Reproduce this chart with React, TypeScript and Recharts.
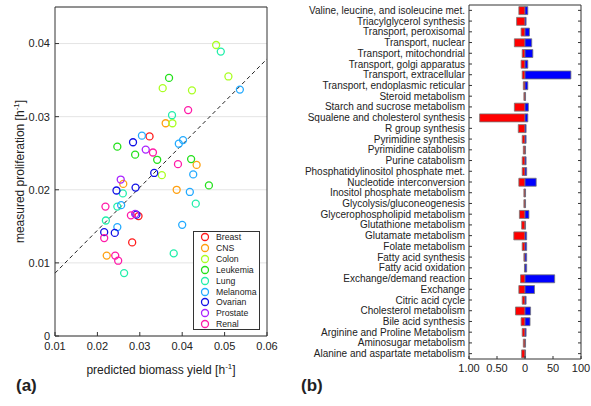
import React from "react";
import {
  ScatterChart,
  Scatter,
  XAxis,
  YAxis,
  CartesianGrid,
  ReferenceLine,
  Legend,
  BarChart,
  Bar
} from "recharts";

const FONT = "'Liberation Sans', Arial, sans-serif";
const INK = "#222";
const AXIS = "#333";

// panel (a): cell lines, grouped by tissue, [predicted yield, measured proliferation]
const cellTypes = ["Breast", "CNS", "Colon", "Leukemia", "Lung", "Melanoma", "Ovarian", "Prostate", "Renal"];
const cellColors = ["#ff1a1a", "#ffa010", "#aaff22", "#22e01a", "#22eeaa", "#22aaff", "#1010e6", "#aa22ff", "#ff1aa8"];

const breast = [[0.0323, 0.0273], [0.0297, 0.0164], [0.0282, 0.0128]];
const cns = [[0.0361, 0.0291], [0.0434, 0.0234], [0.0261, 0.0208], [0.0387, 0.02], [0.0222, 0.011]];
const colon = [[0.048, 0.0398], [0.0509, 0.0355], [0.0354, 0.0339], [0.0423, 0.0336], [0.0377, 0.0291], [0.0352, 0.022]];
const leukemia = [[0.0369, 0.0353], [0.0247, 0.0259], [0.0289, 0.0248], [0.0341, 0.0241], [0.0421, 0.0242], [0.0463, 0.0206]];
const lung = [[0.0491, 0.0389], [0.0376, 0.0302], [0.026, 0.0195], [0.0247, 0.0177], [0.0432, 0.0181], [0.022, 0.0158], [0.038, 0.0113], [0.0263, 0.0086]];
const melanoma = [[0.0536, 0.0337], [0.0305, 0.0274], [0.0402, 0.0268], [0.0392, 0.0263], [0.0426, 0.0221], [0.0418, 0.0197], [0.0256, 0.0179], [0.04, 0.0152], [0.0247, 0.0149]];
const ovarian = [[0.0284, 0.0265], [0.0334, 0.0223], [0.0245, 0.0199], [0.029, 0.0203], [0.0292, 0.0166], [0.0216, 0.0142], [0.0241, 0.0141]];
const prostate = [[0.0255, 0.0214], [0.0314, 0.0255], [0.0289, 0.0167]];
const renal = [[0.0414, 0.0309], [0.0331, 0.0251], [0.039, 0.0235], [0.0219, 0.0177], [0.0279, 0.0165], [0.0216, 0.0134], [0.0242, 0.011], [0.0249, 0.0103]];
const groups = [breast, cns, colon, leukemia, lung, melanoma, ovarian, prostate, renal];

const fitX = [0.01, 0.06];
const fitY = [0.0086, 0.0379];

const yieldTicks = [0.01, 0.02, 0.03, 0.04, 0.05, 0.06];
const prolifTicks = [0, 0.01, 0.02, 0.03, 0.04];

// panel (b): subsystems, top to bottom
const subsystems = [
  "Valine, leucine, and isoleucine met.",
  "Triacylglycerol synthesis",
  "Transport, peroxisomal",
  "Transport, nuclear",
  "Transport, mitochondrial",
  "Transport, golgi apparatus",
  "Transport, extracellular",
  "Transport, endoplasmic reticular",
  "Steroid metabolism",
  "Starch and sucrose metabolism",
  "Squalene and cholesterol synthesis",
  "R group synthesis",
  "Pyrimidine synthesis",
  "Pyrimidine catabolism",
  "Purine catabolism",
  "Phosphatidylinositol phosphate met.",
  "Nucleotide interconversion",
  "Inositol phosphate metabolism",
  "Glycolysis/gluconeogenesis",
  "Glycerophospholipid metabolism",
  "Glutathione metabolism",
  "Glutamate metabolism",
  "Folate metabolism",
  "Fatty acid synthesis",
  "Fatty acid oxidation",
  "Exchange/demand reaction",
  "Exchange",
  "Citric acid cycle",
  "Cholesterol metabolism",
  "Bile acid synthesis",
  "Arginine and Proline Metabolism",
  "Aminosugar metabolism",
  "Alanine and aspartate metabolism"
];
const lossFraction = [0.11, 0.15, 0.07, 0.19, 0.05, 0.07, 0.05, 0.03, 0.02, 0.19, 0.81, 0.12, 0.05, 0.03, 0.05, 0.05, 0.11, 0.02, 0.02, 0.1, 0.06, 0.2, 0.05, 0.02, 0.01, 0.08, 0.11, 0.05, 0.17, 0.07, 0.05, 0.03, 0.06];
const gainCount = [5, 2, 8, 12, 14, 5, 82, 5, 1, 6, 5, 2, 2, 1, 2, 3, 20, 1, 1, 7, 1, 3, 3, 3, 3, 53, 17, 2, 10, 9, 2, 1, 1];
const barTicks = [-100, -50, 0, 50, 100];

const barData = subsystems.map((name, i) => ({
  name,
  loss: -lossFraction[i] * 100,
  gain: gainCount[i]
}));

const fmtBar = (v: number) => (v < 0 ? (-v / 100).toFixed(2) : String(v));
const blank = () => "";

const XTitle = ({ viewBox }: any) => (
  <text x={viewBox.x + viewBox.width / 2} y={viewBox.y + 38} textAnchor="middle" fontSize={12} fill={INK}>
    predicted biomass yield [h
    <tspan dy={-5} fontSize={8}>-1</tspan>
    <tspan dy={5}>]</tspan>
  </text>
);

const YTitle = ({ viewBox }: any) => {
  const cx = viewBox.x + 14;
  const cy = viewBox.y + viewBox.height / 2;
  return (
    <text x={cx} y={cy} transform={`rotate(-90 ${cx} ${cy})`} textAnchor="middle" fontSize={12} fill={INK}>
      measured proliferation [h
      <tspan dy={-5} fontSize={8}>-1</tspan>
      <tspan dy={5}>]</tspan>
    </text>
  );
};

const SubsystemTick = ({ x, y, payload }: any) => (
  <text x={x} y={y} dy={3.5} textAnchor="end" fontSize={10} fill={INK}>
    {payload.value}
  </text>
);

const LegendBox = () => (
  <div
    style={{
      width: 67,
      height: 99,
      boxSizing: "border-box",
      border: `1px solid ${AXIS}`,
      background: "#fff",
      paddingLeft: 6,
      fontSize: 8.7,
      color: INK
    }}
  >
    {cellTypes.map((t, i) => (
      <div key={t} style={{ display: "flex", alignItems: "center", height: 10.85 }}>
        <svg width={10} height={10}>
          <circle cx={5} cy={5} r={3.5} fill="none" stroke={cellColors[i]} strokeWidth={1.3} />
        </svg>
        <span style={{ marginLeft: 6 }}>{t}</span>
      </div>
    ))}
  </div>
);

function YieldScatter() {
  return (
    <ScatterChart width={285} height={406} margin={{ top: 6, right: 17, bottom: 30, left: 10 }}>
      <CartesianGrid vertical={false} stroke="#e4e4e4" />
      <XAxis
        type="number"
        dataKey="x"
        domain={[0.01, 0.06]}
        ticks={yieldTicks}
        tickFormatter={(v: number) => v.toFixed(2)}
        tickSize={-4}
        tickMargin={10}
        height={40}
        stroke={AXIS}
        tick={{ fontSize: 11, fill: INK }}
        allowDataOverflow
        label={XTitle}
      />
      <XAxis
        xAxisId="top"
        orientation="top"
        type="number"
        domain={[0.01, 0.06]}
        ticks={yieldTicks}
        tickFormatter={blank}
        tickSize={-4}
        height={1}
        stroke={AXIS}
      />
      <YAxis
        type="number"
        dataKey="y"
        domain={[0, 0.045]}
        ticks={prolifTicks}
        tickFormatter={(v: number) => (v === 0 ? "0" : v.toFixed(2))}
        tickSize={-4}
        tickMargin={9}
        width={45}
        stroke={AXIS}
        tick={{ fontSize: 11, fill: INK }}
        allowDataOverflow
        label={YTitle}
      />
      <YAxis
        yAxisId="right"
        orientation="right"
        type="number"
        domain={[0, 0.045]}
        ticks={prolifTicks}
        tickFormatter={blank}
        tickSize={-4}
        width={1}
        stroke={AXIS}
      />
      <ReferenceLine
        segment={[
          { x: fitX[0], y: fitY[0] },
          { x: fitX[1], y: fitY[1] }
        ]}
        stroke={INK}
        strokeDasharray="4 3"
      />
      {groups.map((pts, i) => (
        <Scatter
          key={cellTypes[i]}
          name={cellTypes[i]}
          data={pts.map(([x, y]) => ({ x, y }))}
          fill={cellColors[i]}
          isAnimationActive={false}
          shape={(p: any) => (
            <circle cx={p.cx} cy={p.cy} r={3.5} fill="none" stroke={cellColors[i]} strokeWidth={1.3} />
          )}
        />
      ))}
      <Legend
        layout="vertical"
        align="center"
        verticalAlign="middle"
        wrapperStyle={{ left: 193, top: 231, width: 67, height: 99 }}
        content={LegendBox}
      />
    </ScatterChart>
  );
}

function SubsystemBars() {
  return (
    <BarChart
      layout="vertical"
      width={301}
      height={406}
      data={barData}
      stackOffset="sign"
      barCategoryGap="15%"
      margin={{ top: 4, right: 9, bottom: 27, left: 5 }}
    >
      <XAxis
        type="number"
        domain={[-100, 100]}
        ticks={barTicks}
        tickFormatter={fmtBar}
        tickSize={-3}
        tickMargin={8}
        height={20}
        stroke={AXIS}
        tick={{ fontSize: 11, fill: INK }}
        allowDataOverflow
      />
      <XAxis
        xAxisId="top"
        orientation="top"
        type="number"
        domain={[-100, 100]}
        ticks={barTicks}
        tickFormatter={blank}
        tickSize={-3}
        height={1}
        stroke={AXIS}
      />
      <YAxis
        type="category"
        dataKey="name"
        width={174}
        interval={0}
        tickSize={-3}
        tickMargin={7}
        stroke={AXIS}
        tick={SubsystemTick}
      />
      <YAxis
        yAxisId="right"
        orientation="right"
        type="category"
        dataKey="name"
        width={1}
        interval={0}
        tickSize={-3}
        tickFormatter={blank}
        stroke={AXIS}
      />
      <Bar dataKey="loss" stackId="s" fill="#ff0000" stroke="#777" strokeWidth={0.8} isAnimationActive={false} />
      <Bar dataKey="gain" stackId="s" fill="#0000ff" stroke="#777" strokeWidth={0.8} isAnimationActive={false} />
    </BarChart>
  );
}

export default function App() {
  return (
    <div
      style={{
        position: "fixed",
        left: 0,
        top: 0,
        width: 591,
        height: 406,
        background: "#fff",
        fontFamily: FONT,
        color: INK
      }}
    >
      <div style={{ position: "absolute", left: 0, top: 0 }}>
        <YieldScatter />
      </div>
      <div style={{ position: "absolute", left: 290, top: 0 }}>
        <SubsystemBars />
      </div>
      <div style={{ position: "absolute", left: 16, top: 376, fontSize: 17, fontWeight: "bold", lineHeight: "20px" }}>
        (a)
      </div>
      <div style={{ position: "absolute", left: 301, top: 376, fontSize: 17, fontWeight: "bold", lineHeight: "20px" }}>
        (b)
      </div>
    </div>
  );
}
